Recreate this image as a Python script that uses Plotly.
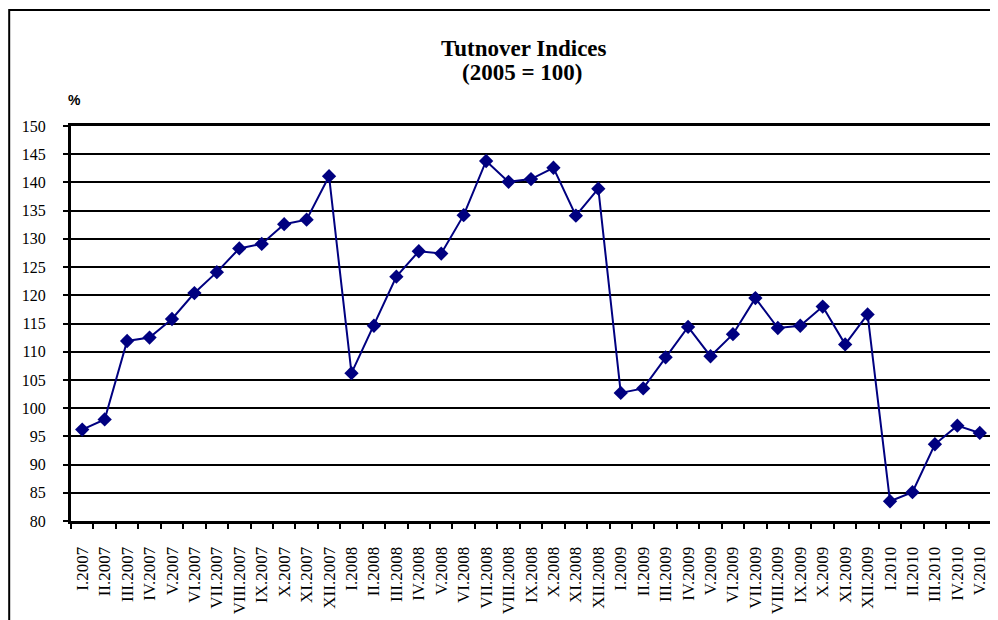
import plotly.graph_objects as go

months = ["I", "II", "III", "IV", "V", "VI", "VII", "VIII", "IX", "X", "XI", "XII"]
categories = ([f"{m}.2007" for m in months] + [f"{m}.2008" for m in months]
              + [f"{m}.2009" for m in months] + [f"{m}.2010" for m in months[:5]])

values = [96.2, 98.0, 111.9, 112.5, 115.8, 120.4, 124.1, 128.3, 129.1, 132.6, 133.4, 141.1,
          106.2, 114.6, 123.3, 127.8, 127.4, 134.2, 143.8, 140.1, 140.6, 142.6, 134.1, 138.9,
          102.7, 103.5, 109.0, 114.4, 109.2, 113.1, 119.5, 114.2, 114.6, 118.0, 111.3, 116.6,
          83.5, 85.1, 93.6, 96.9, 95.6]

title_line1 = "Tutnover Indices"
title_line2 = "(2005 = 100)"
unit_label = "%"

# page has an 8px body margin; work in page coordinates and convert
OFF = 8
W, H = 998 - OFF, 620 - OFF
PX0, PX1, PY0, PY1 = 71, 994, 126, 521  # plot area in page px
L = PX0 - OFF
T = PY0 - OFF
R = W - (PX1 - OFF)
B = H - (PY1 - OFF)
pw, ph = PX1 - PX0, PY1 - PY0

def px_x(x):
    return (x - PX0) / pw

def px_y(y):
    return (PY1 - y) / ph

fig = go.Figure()
fig.add_trace(go.Scatter(
    x=categories, y=values, mode="lines+markers",
    line=dict(color="#000080", width=2),
    marker=dict(symbol="diamond", size=11, color="#000080"),
    showlegend=False, hoverinfo="x+y",
))

serif = "Liberation Serif, Times New Roman, serif"

fig.update_layout(
    width=W, height=H,
    margin=dict(l=L, r=R, t=T, b=B, pad=0),
    paper_bgcolor="white", plot_bgcolor="white",
    xaxis=dict(
        type="category", tickson="boundaries", ticks="outside", ticklen=5,
        tickwidth=2, tickcolor="black", tickangle=-90,
        showgrid=False, showline=True, linecolor="black", linewidth=3,
        mirror=True, ticklabelstandoff=16,
        tickfont=dict(family=serif, size=17, color="black"),
        range=[-0.5, len(categories) - 0.5],
    ),
    yaxis=dict(
        range=[80, 150], dtick=5, tick0=80, ticks="outside", ticklen=5,
        tickwidth=2, tickcolor="black",
        showgrid=True, gridcolor="black", gridwidth=2,
        showline=True, linecolor="black", linewidth=3, mirror=True,
        zeroline=False, ticklabelstandoff=14,
        tickfont=dict(family=serif, size=16, color="black"),
    ),
    annotations=[
        dict(text=f"<b>{title_line1}</b>", x=px_x(525), y=px_y(48), xref="paper", yref="paper",
             showarrow=False, xanchor="center", yanchor="middle",
             font=dict(family=serif, size=23, color="black")),
        dict(text=f"<b>{title_line2}</b>", x=px_x(523), y=px_y(73), xref="paper", yref="paper",
             showarrow=False, xanchor="center", yanchor="middle",
             font=dict(family=serif, size=23, color="black")),
        dict(text=f"<b>{unit_label}</b>", x=px_x(75), y=px_y(100), xref="paper", yref="paper",
             showarrow=False, xanchor="center", yanchor="middle",
             font=dict(family="Liberation Sans, Arial, sans-serif", size=14, color="black")),
    ],
    shapes=[
        dict(type="rect", xref="paper", yref="paper",
             x0=px_x(9), x1=px_x(1010), y0=px_y(640), y1=px_y(10),
             line=dict(color="black", width=2), layer="below"),
    ],
)

fig.write_html("out.html")
